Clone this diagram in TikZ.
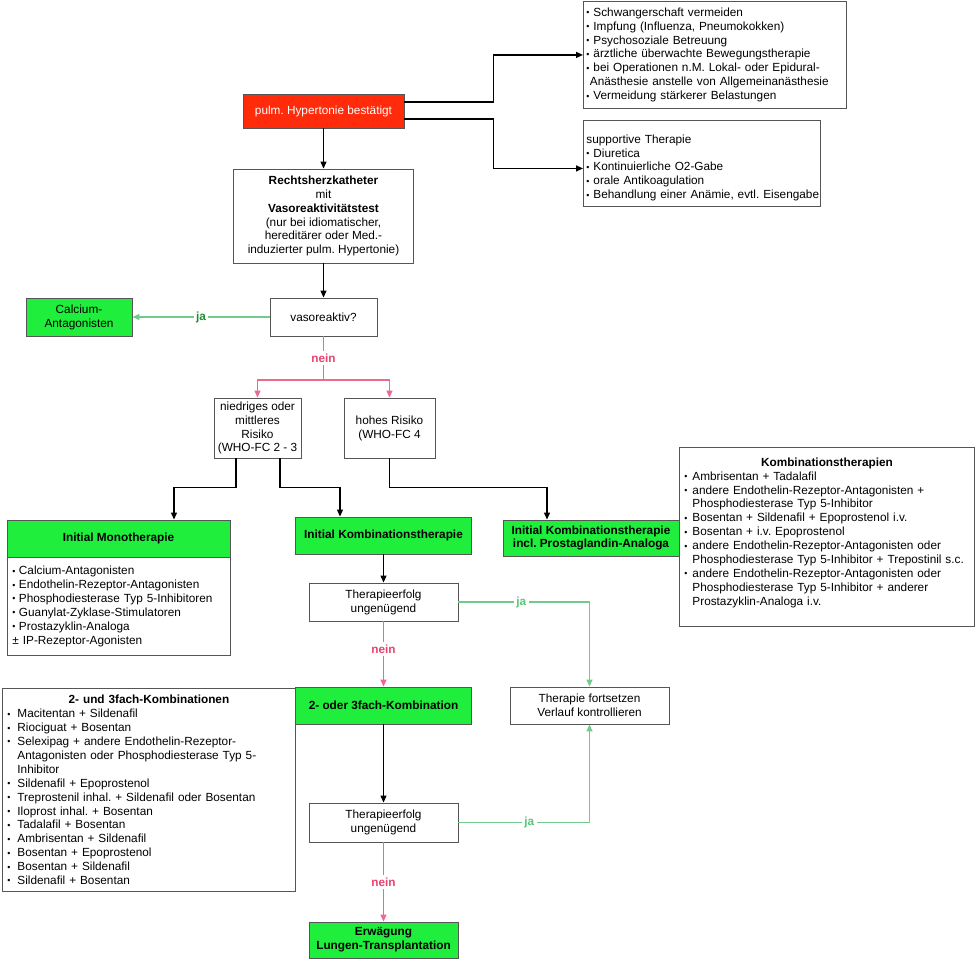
\documentclass[tikz,border=0pt]{standalone}
\usepackage{graphicx}
\usepackage{fontspec}
\setmainfont{Liberation Sans}
\usetikzlibrary{arrows.meta}
\definecolor{grn}{HTML}{20EE3C}
\definecolor{redf}{HTML}{FF2B0B}
\definecolor{boxgray}{HTML}{555555}
\definecolor{glight}{HTML}{6FCC8C}
\definecolor{gdark}{HTML}{1E9030}
\definecolor{glabel}{HTML}{5CC47A}
\definecolor{pinkl}{HTML}{EE6A8C}
\definecolor{pinklabel}{HTML}{E8436E}
\newcommand\fs{\fontsize{11.8}{13.9}\selectfont\frenchspacing}
\newcommand\bu[1]{\makebox[#1][l]{\raisebox{.6pt}{\scalebox{.75}{•}}}}
\begin{document}
\begin{tikzpicture}[x=1pt,y=-1pt,
  box/.style={draw=boxgray,line width=0.9pt,fill=white,inner sep=0pt,font=\fs,align=center},
  gbox/.style={box,fill=grn,font=\fs\bfseries},
  lst/.style={box,align=left,inner xsep=5pt,anchor=north west},
  arr/.style={draw=black,line width=1.2pt,-{Triangle[length=7pt,width=6pt]}},
  garr/.style={draw=glight,line width=1.3pt,-{Triangle[length=7pt,width=6pt]}},
  pline/.style={draw=pinkl,line width=1.3pt},
  parr/.style={pline,-{Triangle[length=7pt,width=6pt]}},
  lblj/.style={fill=white,text=glabel,font=\fs\bfseries,inner sep=2.5pt},
  lbln/.style={fill=white,text=pinklabel,font=\fs\bfseries,inner sep=2.5pt}]
\useasboundingbox (0,0) rectangle (975,960);
\fill[white] (0,0) rectangle (975,960);

\node[lst,inner xsep=3pt,text width=257pt,minimum height=107pt] (b1) at (583,1)
 {\bu{7pt}Schwangerschaft vermeiden\\
  \bu{7pt}Impfung (Influenza, Pneumokokken)\\
  \bu{7pt}Psychosoziale Betreuung\\
  \bu{7pt}ärztliche überwachte Bewegungstherapie\\
  \bu{7pt}\mbox{bei Operationen n.M. Lokal- oder Epidural-}\\
  \hspace*{3.5pt}\mbox{Anästhesie anstelle von Allgemeinanästhesie}\\
  \bu{7pt}Vermeidung stärkerer Belastungen};

\node[lst,inner xsep=3pt,text width=231pt,minimum height=86pt] (b2) at (583,120)
 {\rule{0pt}{17.5pt}supportive Therapie\\
  \bu{7pt}Diuretica\\
  \bu{7pt}Kontinuierliche O2-Gabe\\
  \bu{7pt}orale Antikoagulation\\
  \bu{7pt}\mbox{Behandlung einer Anämie, evtl. Eisengabe}};

\node[box,fill=redf,text=white,minimum width=161pt,minimum height=34pt] (red) at (323.5,111) {pulm. Hypertonie bestätigt};

\node[box,minimum width=180pt,minimum height=94pt] (rhk) at (323.5,216)
 {\textbf{Rechtsherzkatheter}\\mit\\\textbf{Vasoreaktivitätstest}\\(nur bei idiomatischer,\\hereditärer oder Med.-\\induzierter pulm. Hypertonie)};

\node[box,minimum width=107pt,minimum height=38pt] (vaso) at (323.5,317) {vasoreaktiv?};
\node[box,fill=grn,minimum width=106pt,minimum height=38pt] (calc) at (79,317) {Calcium-\\Antagonisten};

\node[box,minimum width=87pt,minimum height=60pt] (nied) at (257.5,428) {niedriges oder\\mittleres\\Risiko\\(WHO-FC 2 - 3};
\node[box,minimum width=91pt,minimum height=60pt] (hohes) at (389.5,428) {hohes Risiko\\(WHO-FC 4};

\node[lst,text width=213pt,minimum height=98pt] (monob) at (7,557)
 {\bu{6.5pt}Calcium-Antagonisten\\
  \bu{6.5pt}Endothelin-Rezeptor-Antagonisten\\
  \bu{6.5pt}\mbox{Phosphodiesterase Typ 5-Inhibitoren}\\
  \bu{6.5pt}Guanylat-Zyklase-Stimulatoren\\
  \bu{6.5pt}Prostazyklin-Analoga\\
  ± IP-Rezeptor-Agonisten};
\node[gbox,minimum width=223pt,minimum height=37pt] (monoh) at (118.5,538.5) {Initial Monotherapie};

\node[gbox,minimum width=176pt,minimum height=37pt] (ik) at (383.5,535.5) {Initial Kombinationstherapie};

\node[lst,text width=285pt,minimum height=179pt] (kombi) at (679,447)
 {\makebox[\linewidth][c]{\textbf{Kombinationstherapien}}\\
  \bu{8pt}Ambrisentan + Tadalafil\\
  \bu{8pt}\mbox{andere Endothelin-Rezeptor-Antagonisten +}\\
  \hspace*{8pt}Phosphodiesterase Typ 5-Inhibitor\\
  \bu{8pt}\mbox{Bosentan + Sildenafil + Epoprostenol i.v.}\\
  \bu{8pt}Bosentan + i.v. Epoprostenol\\
  \bu{8pt}\mbox{andere Endothelin-Rezeptor-Antagonisten oder}\\
  \hspace*{8pt}\mbox{Phosphodiesterase Typ 5-Inhibitor + Trepostinil s.c.}\\
  \bu{8pt}\mbox{andere Endothelin-Rezeptor-Antagonisten oder}\\
  \hspace*{8pt}\mbox{Phosphodiesterase Typ 5-Inhibitor + anderer}\\
  \hspace*{8pt}Prostazyklin-Analoga i.v.\rule[-11pt]{0pt}{1pt}};
\node[gbox,minimum width=176pt,minimum height=36pt] (ikp) at (591,538) {Initial Kombinationstherapie\\incl. Prostaglandin-Analoga};

\node[box,minimum width=149pt,minimum height=38pt] (te1) at (383.5,602) {Therapieerfolg\\ungenügend};

\node[lst,text width=283pt,minimum height=203pt] (l23) at (2,688)
 {\makebox[\linewidth][c]{\textbf{2- und 3fach-Kombinationen}}\\
  \bu{10pt}Macitentan + Sildenafil\\
  \bu{10pt}Riociguat + Bosentan\\
  \bu{10pt}\mbox{Selexipag + andere Endothelin-Rezeptor-}\\
  \hspace*{10pt}\mbox{Antagonisten oder Phosphodiesterase Typ 5-}\\
  \hspace*{10pt}Inhibitor\\
  \bu{10pt}Sildenafil + Epoprostenol\\
  \bu{10pt}\mbox{Treprostenil inhal. + Sildenafil oder Bosentan}\\
  \bu{10pt}Iloprost inhal. + Bosentan\\
  \bu{10pt}Tadalafil + Bosentan\\
  \bu{10pt}Ambrisentan + Sildenafil\\
  \bu{10pt}Bosentan + Epoprostenol\\
  \bu{10pt}Bosentan + Sildenafil\\
  \bu{10pt}Sildenafil + Bosentan};

\node[gbox,minimum width=176pt,minimum height=37pt] (zwei) at (383.5,705.5) {2- oder 3fach-Kombination};
\node[box,minimum width=159pt,minimum height=37pt] (tf) at (589.5,705.5) {Therapie fortsetzen\\Verlauf kontrollieren};
\node[box,minimum width=149pt,minimum height=39pt] (te2) at (383.5,822.5) {Therapieerfolg\\ungenügend};
\node[gbox,minimum width=149pt,minimum height=36pt] (erw) at (383.5,940) {Erwägung\\Lungen-Transplantation};

% connectors
\draw[arr] ([yshift=9pt]red.east) -- ++(89,0) |- (b1.west);
\draw[arr] ([yshift=-8pt]red.east) -- ++(89,0) |- ([yshift=-5pt]b2.west);
\draw[arr] (red.south) -- (rhk.north);
\draw[arr] (rhk.south) -- (vaso.north);
\draw[garr] (vaso.west) -- node[lblj,text=gdark]{ja} (calc.east);
\coordinate (split) at (323.5,380);
\draw[pline] (vaso.south) -- node[lbln]{nein} (split);
\draw[parr] (split) -| (nied.north);
\draw[parr] (split) -| (hohes.north);
\draw[arr] ([xshift=-21.5pt]nied.south) -- ++(0,29) -| ([xshift=55.5pt]monoh.north);
\draw[arr] ([xshift=22.5pt]nied.south) -- ++(0,29) -| ([xshift=-43.5pt]ik.north);
\draw[arr] (hohes.south) -- ++(0,29) -| ([xshift=-44pt]ikp.north);
\draw[arr] (ik.south) -- (te1.north);
\draw[garr] (te1.east) -| node[lblj,pos=0.24]{ja} (tf.north);
\draw[parr] (te1.south) -- node[lbln,pos=0.42]{nein} (zwei.north);
\draw[arr] (zwei.south) -- (te2.north);
\draw[garr] (te2.east) -| node[lblj,pos=0.27]{ja} (tf.south);
\draw[parr] (te2.south) -- node[lbln]{nein} (erw.north);
\end{tikzpicture}
\end{document}
